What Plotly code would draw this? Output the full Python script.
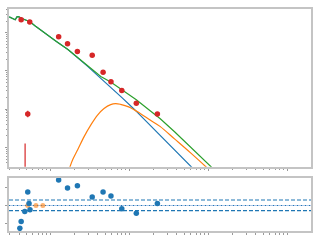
import plotly.graph_objects as go

# ---- data ----
data_x = [0.4256, 0.5464, 1.270, 1.645, 2.194, 3.38, 4.64, 5.84, 8.01, 12.23, 22.6, 0.516, 0.4775]
data_y = [2154, 1880, 776, 513, 320, 257, 92.6, 52.2, 30.7, 14.3, 7.45, 7.45, 0.2]
data_err_plus = [172, 150, 62, 41, 26, 21, 7.4, 4.2, 2.5, 1.1, 0.6, 1.6, 1.07]
data_err_minus = [160, 139, 57, 38, 24, 19, 6.9, 3.9, 2.3, 1.1, 0.55, 1.32, 0.19]

blue_x = [0.30, 0.342, 0.358, 0.376, 0.395, 0.434, 0.551, 0.636, 0.849, 1.189, 1.665,
          2.22, 2.96, 4.34, 5.79, 8.11, 11.32, 15.09, 24.4, 37.6, 63.1]
blue_y = [2571, 2328, 2154, 2571, 2618, 2328, 1915, 1511, 959, 588, 360,
          218, 131, 63.5, 37.8, 19.7, 10.3, 5.71, 2.15, 0.889, 0.290]

orange_x = [1.753, 1.922, 2.22, 2.68, 3.25, 3.95, 4.77, 5.79, 6.68, 7.72, 9.8,
            13.7, 18.3, 24.4, 37.6, 59.6, 95.8]
orange_y = [0.298, 0.492, 0.889, 1.95, 3.89, 7.02, 10.4, 13.2, 14.0, 13.4, 11.5,
            7.76, 5.22, 3.56, 1.65, 0.723, 0.298]

green_x = [0.30, 0.342, 0.358, 0.376, 0.395, 0.434, 0.551, 0.636, 0.849, 1.189, 1.665,
           2.22, 2.96, 4.34, 5.79, 8.01, 12.23, 18.3, 24.4, 37.6, 59.6, 111.2]
green_y = [2571, 2328, 2154, 2571, 2618, 2328, 1915, 1511, 959, 588, 360,
           219, 134, 71.4, 51.0, 32.0, 17.7, 9.1, 5.7, 2.54, 1.05, 0.298]

res_x = [0.4097, 0.4256, 0.473, 0.516, 0.5354, 0.551, 1.270, 1.645, 2.194, 3.38,
         4.64, 5.84, 8.01, 12.23, 22.6]
res_y = [-1.246, -0.872, -0.321, 0.733, 0.107, -0.230, 1.390, 0.947, 1.070, 0.465,
         0.733, 0.519, -0.176, -0.428, 0.107]
res2_x = [0.516, 0.655, 0.801]
res2_y = [0.0, 0.0, 0.0]
band_levels = [0.30, -0.28]
zero_level = [0.0]

BLUE, ORANGE, GREEN, RED = "#1f77b4", "#ff7f0e", "#2ca02c", "#d62728"
SPINE = "#c4c4c4"
TICK = "#9a9a9a"

fig = go.Figure()
fig.add_trace(go.Scatter(x=blue_x, y=blue_y, mode="lines", line=dict(color=BLUE, width=1.2),
                         xaxis="x", yaxis="y", showlegend=False))
fig.add_trace(go.Scatter(x=orange_x, y=orange_y, mode="lines", line=dict(color=ORANGE, width=1.2, shape="spline"),
                         xaxis="x", yaxis="y", showlegend=False))
fig.add_trace(go.Scatter(x=green_x, y=green_y, mode="lines", line=dict(color=GREEN, width=1.2),
                         xaxis="x", yaxis="y", showlegend=False))
fig.add_trace(go.Scatter(x=data_x, y=data_y, mode="markers",
                         marker=dict(color=RED, size=5.5),
                         error_y=dict(type="data", array=data_err_plus, arrayminus=data_err_minus,
                                      color=RED, thickness=1.2, width=0),
                         xaxis="x", yaxis="y", showlegend=False))

# residual panel
for lv in band_levels:
    fig.add_trace(go.Scatter(x=[0.2985, 1995], y=[lv, lv], mode="lines",
                             line=dict(color=BLUE, width=1.2, dash="4px,2px"),
                             xaxis="x2", yaxis="y2", showlegend=False))
for lv in zero_level:
    fig.add_trace(go.Scatter(x=[0.2985, 1995], y=[lv, lv], mode="lines",
                             line=dict(color="#aec7e8", width=1.2),
                             xaxis="x2", yaxis="y2", showlegend=False))
    fig.add_trace(go.Scatter(x=[0.2985, 1995], y=[lv, lv], mode="lines",
                             line=dict(color=BLUE, width=1.2, dash="1px,3px"),
                             xaxis="x2", yaxis="y2", showlegend=False))
fig.add_trace(go.Scatter(x=res2_x, y=res2_y, mode="markers",
                         marker=dict(color=ORANGE, size=5, opacity=0.6),
                         xaxis="x2", yaxis="y2", showlegend=False))
fig.add_trace(go.Scatter(x=res_x, y=res_y, mode="markers",
                         marker=dict(color=BLUE, size=5.5),
                         xaxis="x2", yaxis="y2", showlegend=False))

axis_common = dict(showline=True, linecolor=SPINE, linewidth=2, mirror=True,
                   showgrid=False, zeroline=False, showticklabels=False,
                   ticks="outside", ticklen=2, tickwidth=1, tickcolor=TICK)
log_minor = dict(ticks="outside", ticklen=1.5, tickwidth=1, tickcolor=TICK, dtick="D1", showgrid=False)

fig.update_layout(
    width=320, height=240,
    margin=dict(l=7, r=7, t=7, b=7),
    paper_bgcolor="white", plot_bgcolor="white",
    xaxis=dict(type="log", range=[-0.525, 3.3], domain=[0, 1], anchor="y", dtick=1,
               minor=log_minor, **axis_common),
    yaxis=dict(type="log", range=[-0.50, 3.615], domain=[0.2898, 1], anchor="x", dtick=1,
               minor=log_minor, **axis_common),
    xaxis2=dict(type="log", range=[-0.525, 3.3], domain=[0, 1], anchor="y2", dtick=1,
                minor=log_minor, **axis_common),
    yaxis2=dict(range=[-1.39, 1.50], domain=[0, 0.2389], anchor="x2", dtick=1,
                **axis_common),
)

fig.write_html("out.html")
